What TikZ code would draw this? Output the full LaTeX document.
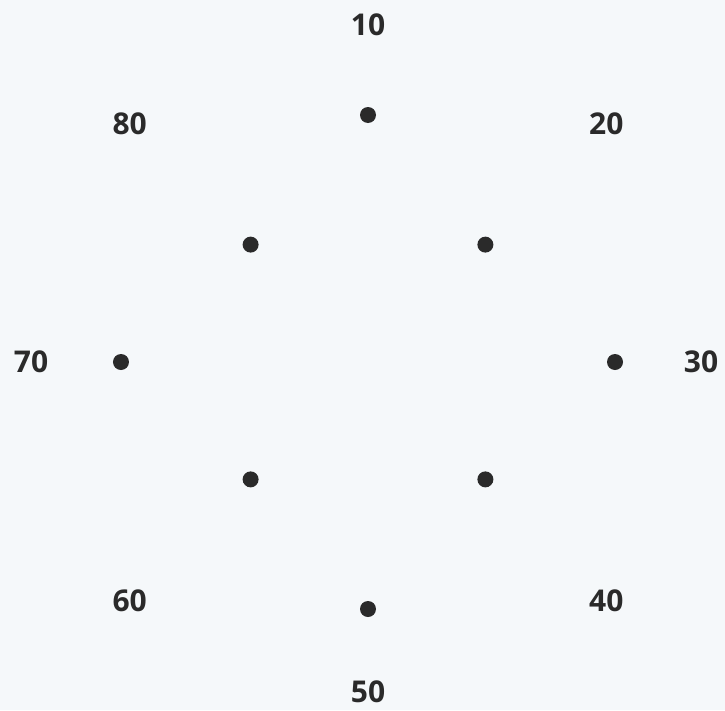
\documentclass[tikz,border=0pt]{standalone}
\usepackage{fontspec}
\setmainfont{Open Sans}
\definecolor{bgpaper}{HTML}{F5F8FA}
\definecolor{inkdark}{HTML}{2A2A2A}
\begin{document}
\begin{tikzpicture}[
				x=1pt, y=1pt,
				dot/.style={circle, fill=inkdark, inner sep=0pt, minimum size=16pt},
				num/.style={text=inkdark, font=\fontsize{30}{33}\selectfont\bfseries, inner sep=0pt}
			]
			\fill[bgpaper] (-368,-348) rectangle (357,362);
			\useasboundingbox (-368,-348) rectangle (357,362);
			\coordinate (c) at (0,0);
			% dots
			\foreach \i/\a/\r in {1/90/247, 2/45/166, 3/0/247, 4/-45/166, 5/-90/247, 6/-135/166, 7/180/247, 8/135/166}
				\node[dot] (d\i) at (\a:\r) {};
			% labels
			\foreach \i/\a/\r/\t in {1/90/337/10, 2/45/337/20, 3/0/333/30, 4/-45/337/40, 5/-90/330/50, 6/-135/337/60, 7/180/337/70, 8/135/337/80}
				\node[num] (l\i) at (\a:\r) {\t};
		\end{tikzpicture}
\end{document}
